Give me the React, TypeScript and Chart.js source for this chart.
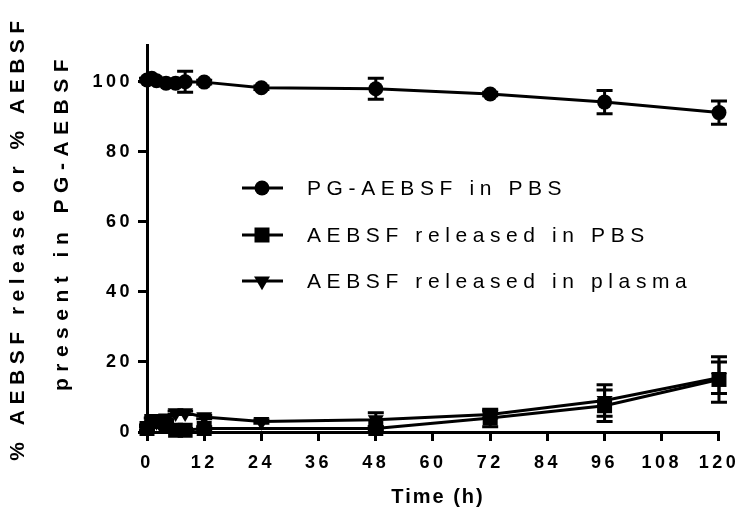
import React, { useEffect, useRef } from "react";
import { Chart, registerables } from "chart.js";

Chart.register(...registerables);

// ---- data ----
const xTicks = [0, 12, 24, 36, 48, 60, 72, 84, 96, 108, 120];
const yTicks = [0, 20, 40, 60, 80, 100];

const seriesNames = ["PG-AEBSF in PBS", "AEBSF released in PBS", "AEBSF released in plasma"];

const circleTimes = [0, 1, 2, 4, 6, 8, 12, 24, 48, 72, 96, 120];
const circleValues = [100.5, 101, 100.3, 99.6, 99.6, 100, 99.9, 98.3, 98, 96.5, 94.2, 91.2];
const circleErrors = [0.5, 0.5, 0.5, 0.5, 0.5, 3, 0.5, 0.5, 3, 0.5, 3.3, 3.3];

const pbsTimes = [0, 1, 2, 4, 6, 8, 12, 48, 72, 96, 120];
const pbsValues = [1, 3, 3, 2, 0.5, 0.5, 1, 1, 4, 7.5, 15];
const pbsErrors = [1, 1, 1, 1, 0.5, 0.5, 0.5, 0.5, 2.5, 4.5, 6.5];

const plasmaTimes = [0, 1, 2, 4, 6, 8, 12, 24, 48, 72, 96, 120];
const plasmaValues = [1, 2, 3, 4, 5.5, 5.5, 4.3, 3, 3.5, 5, 9, 15.5];
const plasmaErrors = [0.5, 0.5, 0.5, 0.5, 0.5, 0.5, 0.5, 0.5, 2, 1, 4.5, 4.5];

const allTimes = [circleTimes, pbsTimes, plasmaTimes];
const allValues = [circleValues, pbsValues, plasmaValues];
const allErrors = [circleErrors, pbsErrors, plasmaErrors];

const FONT = "'Liberation Sans', Arial, sans-serif";

function toXY(t: number[], v: number[]) {
  return t.map((x, i) => ({ x, y: v[i] }));
}

const letterSpacingPlugin = {
  id: "letterSpacing",
  beforeDraw(chart: any) {
    (chart.ctx as any).letterSpacing = "3.5px";
  },
  afterDraw(chart: any) {
    (chart.ctx as any).letterSpacing = "0px";
  },
};

const errorBarPlugin = {
  id: "errorBars",
  beforeDatasetsDraw(chart: any) {
    const ctx = chart.ctx;
    const xs = chart.scales.x;
    const ys = chart.scales.y;
    ctx.save();
    ctx.strokeStyle = "#000";
    ctx.lineWidth = 3;
    allTimes.forEach((times, si) => {
      times.forEach((t, i) => {
        const v = allValues[si][i];
        const e = allErrors[si][i];
        const px = xs.getPixelForValue(t);
        const top = ys.getPixelForValue(v + e);
        const bot = ys.getPixelForValue(v - e);
        ctx.beginPath();
        ctx.moveTo(px, top);
        ctx.lineTo(px, bot);
        ctx.moveTo(px - 8, top);
        ctx.lineTo(px + 8, top);
        ctx.moveTo(px - 8, bot);
        ctx.lineTo(px + 8, bot);
        ctx.stroke();
      });
    });
    ctx.restore();
  },
};

function drawMarker(ctx: CanvasRenderingContext2D, kind: number, x: number, y: number) {
  ctx.beginPath();
  if (kind === 0) {
    ctx.arc(x, y, 7.5, 0, Math.PI * 2);
  } else if (kind === 1) {
    ctx.rect(x - 7.5, y - 7.5, 15, 15);
  } else {
    const r = 9.2;
    ctx.moveTo(x - r * 0.866, y - r / 2);
    ctx.lineTo(x + r * 0.866, y - r / 2);
    ctx.lineTo(x, y + r);
    ctx.closePath();
  }
  ctx.fill();
}

const textPlugin = {
  id: "texts",
  afterDraw(chart: any) {
    const ctx: any = chart.ctx;
    ctx.save();
    ctx.fillStyle = "#000";
    ctx.strokeStyle = "#000";
    // x title
    ctx.letterSpacing = "2px";
    ctx.font = `bold 20px ${FONT}`;
    ctx.textAlign = "center";
    ctx.textBaseline = "middle";
    ctx.fillText("Time (h)", 438, 497);
    // y title
    ctx.letterSpacing = "5.5px";
    ctx.font = `bold 21px ${FONT}`;
    ctx.save();
    ctx.translate(18, 238);
    ctx.rotate(-Math.PI / 2);
    ctx.fillText("% AEBSF release or % AEBSF", 0, 0);
    ctx.restore();
    ctx.save();
    ctx.letterSpacing = "6.5px";
    ctx.translate(62, 222);
    ctx.rotate(-Math.PI / 2);
    ctx.fillText("present in PG-AEBSF", 0, 0);
    ctx.restore();
    // legend
    const rows = [188, 235, 281];
    ctx.letterSpacing = "5.6px";
    ctx.font = `21px ${FONT}`;
    ctx.textAlign = "left";
    rows.forEach((ry, i) => {
      ctx.lineWidth = 3;
      ctx.beginPath();
      ctx.moveTo(242, ry);
      ctx.lineTo(283, ry);
      ctx.stroke();
      drawMarker(ctx, i, 262, ry);
      ctx.fillText(seriesNames[i], 307, ry + 1);
    });
    ctx.restore();
  },
};

export default function App() {
  const ref = useRef<HTMLCanvasElement | null>(null);
  useEffect(() => {
    if (!ref.current) return;
    const common = {
      borderColor: "#000",
      backgroundColor: "#000",
      borderWidth: 3,
      pointBackgroundColor: "#000",
      pointBorderColor: "#000",
      pointBorderWidth: 0,
      pointHoverRadius: 0,
      tension: 0,
      clip: false as any,
    };
    const chart = new Chart(ref.current, {
      type: "line",
      data: {
        datasets: [
          { ...common, label: seriesNames[0], data: toXY(circleTimes, circleValues), pointStyle: "circle", pointRadius: 7.5 },
          { ...common, label: seriesNames[1], data: toXY(pbsTimes, pbsValues), pointStyle: "rect", pointRadius: 10.6 },
          { ...common, label: seriesNames[2], data: toXY(plasmaTimes, plasmaValues), pointStyle: "triangle", pointRotation: 180, pointRadius: 9.2 },
        ],
      },
      options: {
        responsive: false,
        animation: false,
        devicePixelRatio: 1,
        layout: { padding: { left: 0, right: 21, top: 45, bottom: 0 } },
        plugins: { legend: { display: false }, tooltip: { enabled: false } },
        events: [],
        scales: {
          x: {
            type: "linear",
            min: 0,
            max: 120,
            afterBuildTicks: (s: any) => {
              s.ticks = xTicks.map((v) => ({ value: v }));
            },
            afterFit: (s: any) => {
              s.height = 85;
            },
            ticks: {
              color: "#000",
              font: { family: FONT, size: 18, weight: "bold" },
              padding: 11,
              maxRotation: 0,
              autoSkip: false,
            },
            grid: { drawOnChartArea: false, tickLength: 9, lineWidth: 3, color: "#000" },
            border: { display: true, width: 3, color: "#000" },
          },
          y: {
            type: "linear",
            min: 0,
            max: 110.5,
            afterBuildTicks: (s: any) => {
              s.ticks = yTicks.map((v) => ({ value: v }));
            },
            afterFit: (s: any) => {
              s.width = 147;
            },
            ticks: {
              color: "#000",
              font: { family: FONT, size: 18, weight: "bold" },
              padding: 5,
              autoSkip: false,
            },
            grid: { drawOnChartArea: false, tickLength: 9, lineWidth: 3, color: "#000" },
            border: { display: true, width: 3, color: "#000" },
          },
        },
      },
      plugins: [letterSpacingPlugin, errorBarPlugin, textPlugin],
    });
    return () => chart.destroy();
  }, []);
  return (
    <div style={{ position: "fixed", left: 0, top: 0, width: 745, height: 517, background: "#fff" }}>
      <canvas ref={ref} width={745} height={517} style={{ width: 745, height: 517 }} />
    </div>
  );
}
